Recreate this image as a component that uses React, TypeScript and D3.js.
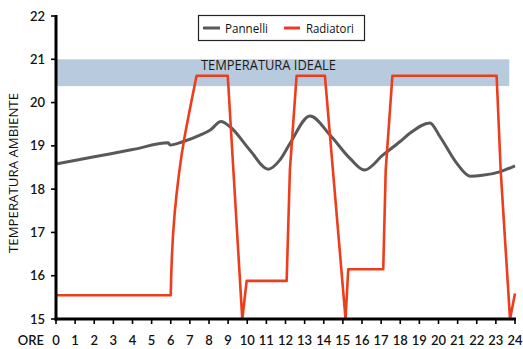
import React from "react";
import * as d3 from "d3";

const hours = d3.range(0, 25);
const yTicks = [15, 16, 17, 18, 19, 20, 21, 22];
const seriesNames = ["Pannelli", "Radiatori"];
const seriesColors = ["#595959", "#ec3d1c"];
const bandRange = [20.38, 21];
const bandEndHour = 23.7;
const bandLabel = "TEMPERATURA IDEALE";
const yTitle = "TEMPERATURA AMBIENTE";
const xTitle = "ORE";

const pannelliX = [0, 2, 4, 5.87, 5.96, 6.66, 7.53, 8.05, 8.63, 9.1, 10.14, 11.1, 11.7, 12.24, 13.28, 14.33, 15.37, 16.12, 17.1, 17.99, 18.5, 19.55, 20.08, 20.95, 21.65, 22.3, 23.2, 24];
const pannelliY = [18.58, 18.747, 18.914, 19.07, 19.02, 19.1, 19.25, 19.36, 19.56, 19.44, 18.9, 18.46, 18.67, 19.06, 19.69, 19.25, 18.71, 18.44, 18.79, 19.1, 19.29, 19.53, 19.21, 18.6, 18.3, 18.32, 18.4, 18.54];

const radiatoriX = [0, 6.0, 6.02, 6.06, 6.12, 6.2, 6.3, 6.42, 6.56, 6.72, 6.9, 7.1, 7.35, 8.98, 9.74, 9.97, 12.06, 12.23, 12.58, 14.06, 15.14, 15.28, 17.11, 17.24, 17.59, 23.04, 23.25, 23.74, 24];
const radiatoriY = [15.55, 15.55, 15.95, 16.45, 16.95, 17.42, 17.87, 18.32, 18.77, 19.2, 19.62, 20.07, 20.62, 20.62, 15.0, 15.88, 15.88, 18.44, 20.62, 20.62, 15.0, 16.15, 16.15, 18.44, 20.62, 20.62, 18.44, 15.0, 15.59];

export default function App() {
  const W = 523, H = 349;
  const x = d3.scaleLinear().domain([0, 24]).range([56, 515]);
  const y = d3.scaleLinear().domain([15, 22]).range([319, 16]);

  const pData = pannelliX.map((h, i) => [h, pannelliY[i]] as [number, number]);
  const rData = radiatoriX.map((h, i) => [h, radiatoriY[i]] as [number, number]);

  const pLine = d3.line<[number, number]>().x(d => x(d[0])).y(d => y(d[1])).curve(d3.curveMonotoneX);
  const rLine = d3.line<[number, number]>().x(d => x(d[0])).y(d => y(d[1])).curve(d3.curveLinear);

  const tickFont = "Lato, 'Noto Sans', sans-serif";
  const textFont = "'Open Sans', 'Noto Sans', sans-serif";

  return (
    <svg width={W} height={H} style={{ position: "absolute", left: 0, top: 0, background: "#fff" }}>
      <rect x={x(0)} y={y(bandRange[1])} width={x(bandEndHour) - x(0)} height={y(bandRange[0]) - y(bandRange[1])} fill="#b8cadd" />
      <text x={201} y={69.5} fontFamily={textFont} fontSize={14} fill="#1a1a1a" textLength={135} lengthAdjust="spacingAndGlyphs">{bandLabel}</text>

      <path d={pLine(pData) || ""} fill="none" stroke={seriesColors[0]} strokeWidth={3} />
      <path d={rLine(rData) || ""} fill="none" stroke={seriesColors[1]} strokeWidth={2.6} strokeLinejoin="round" />

      {/* y axis */}
      <line x1={x(0)} x2={x(0)} y1={y(22) - 1} y2={y(15) + 1.5} stroke="#000" strokeWidth={3} />
      {yTicks.map(t => (
        <g key={t}>
          <line x1={x(0) - 5} x2={x(0)} y1={y(t)} y2={y(t)} stroke="#000" strokeWidth={1.6} />
          <text x={45} y={y(t)} dy="0.35em" textAnchor="end" fontFamily={tickFont} fontWeight={600} fontSize={13} fill="#111">{t}</text>
        </g>
      ))}
      {/* x axis */}
      <line x1={x(0) - 1.5} x2={x(24) + 1} y1={y(15)} y2={y(15)} stroke="#000" strokeWidth={3} />
      {hours.map(h => (
        <g key={h}>
          <line x1={x(h)} x2={x(h)} y1={y(15)} y2={y(15) + 5} stroke="#000" strokeWidth={1.6} />
          <text x={x(h)} y={345} textAnchor="middle" fontFamily={tickFont} fontWeight={600} fontSize={13} fill="#111">{h}</text>
        </g>
      ))}
      <text x={44} y={345} textAnchor="end" fontFamily={tickFont} fontWeight={600} fontSize={13} fill="#111">{xTitle}</text>

      <text transform={`translate(18,173) rotate(-90)`} textAnchor="middle" fontFamily={textFont} fontSize={12.5} fill="#111" textLength={160} lengthAdjust="spacingAndGlyphs">{yTitle}</text>

      {/* legend */}
      <rect x={198.5} y={15.5} width={166} height={25} fill="#fff" stroke="#222" strokeWidth={1.2} />
      <line x1={203} x2={220} y1={28} y2={28} stroke={seriesColors[0]} strokeWidth={3} />
      <text x={225} y={33} fontFamily={textFont} fontSize={12} fill="#111" textLength={43} lengthAdjust="spacingAndGlyphs">{seriesNames[0]}</text>
      <line x1={284} x2={300} y1={28} y2={28} stroke={seriesColors[1]} strokeWidth={3} />
      <text x={306} y={33} fontFamily={textFont} fontSize={12} fill="#111" textLength={48} lengthAdjust="spacingAndGlyphs">{seriesNames[1]}</text>
    </svg>
  );
}
